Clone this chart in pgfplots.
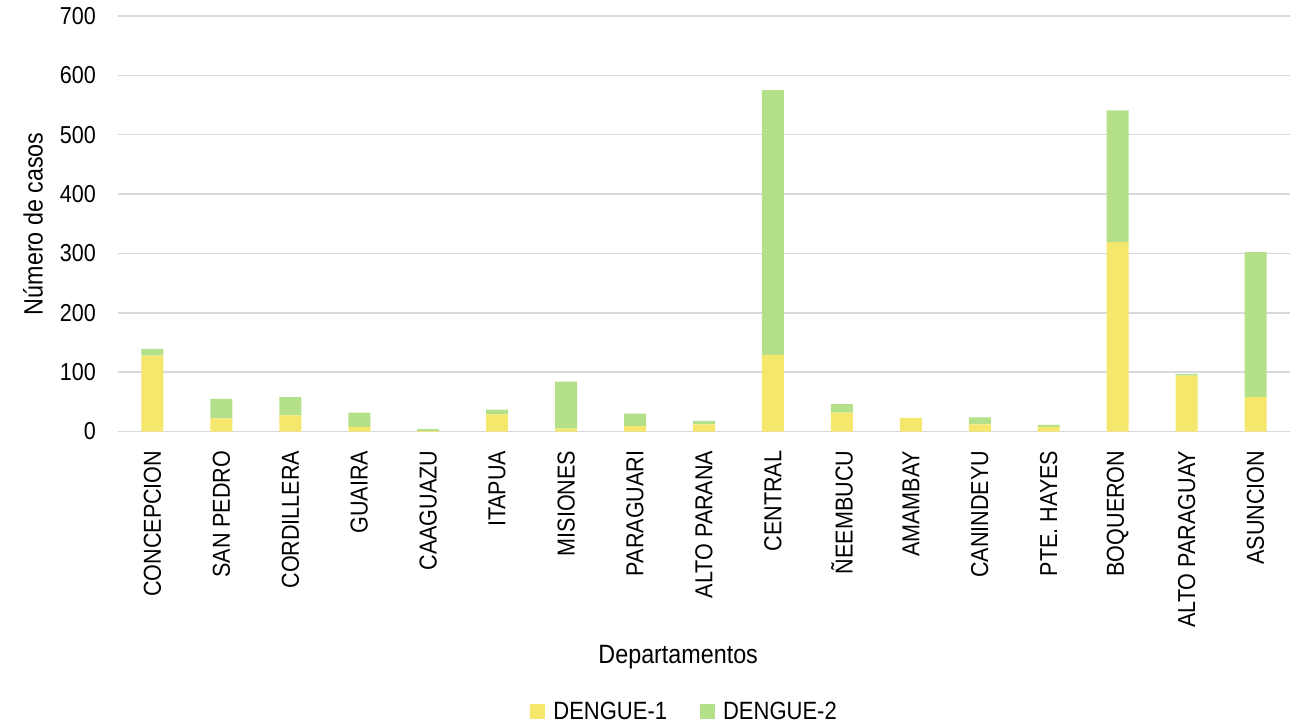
\documentclass[border=0pt]{standalone}
\usepackage{fontspec}
\setmainfont{Liberation Sans}[FakeStretch=0.88]
\usepackage{pgfplots}
\pgfplotsset{compat=1.18}
\usepackage{pgfplotstable}
\definecolor{dyellow}{RGB}{245,231,107}
\definecolor{dgreen}{RGB}{180,224,137}
\definecolor{gridgray}{RGB}{217,217,217}
\pgfplotstableread{
x d1 d2
0 128 11
1 22 33
2 27 31
3 8 24
4 1 3
5 29 8
6 5 79
7 9 21
8 12 6
9 129 446
10 32 14
11 23 0
12 12 12
13 8 3
14 319 222
15 94 3
16 58 244
}\datatable
\begin{document}
\begin{tikzpicture}
\path[use as bounding box] (-118pt,-294.5pt) rectangle (1194pt,431.5pt);
\begin{axis}[
  at={(0,0)}, anchor=south west,
  scale only axis,
  width=1172pt, height=415.5pt,
  ybar stacked,
  bar width=22pt,
  ymin=0, ymax=700,
  ytick distance=100,
  xmin=-0.5, xmax=16.5,
  xtick=data,
  xticklabels={CONCEPCION,SAN PEDRO,CORDILLERA,GUAIRA,CAAGUAZU,ITAPUA,MISIONES,PARAGUARI,ALTO PARANA,CENTRAL,ÑEEMBUCU,AMAMBAY,CANINDEYU,PTE. HAYES,BOQUERON,ALTO PARAGUAY,ASUNCION},
  axis line style={draw=none},
  major tick length=0pt,
  ymajorgrids,
  grid style={gridgray, line width=1.5pt},
  font=\fontsize{24}{28}\selectfont,
  tick label style={font=\fontsize{24.5}{28}\selectfont},
  /pgf/number format/assume math mode=true,
  xticklabel style={rotate=90, anchor=east, inner sep=0pt},
  xticklabel shift=19pt,
  yticklabel style={anchor=east, inner sep=0pt},
  yticklabel shift=22pt,
  xlabel={Departamentos},
  ylabel={Número de casos},
  xlabel style={at={(axis description cs:0.478,-0.543)}, anchor=center, font=\fontsize{26.5}{30}\selectfont},
  ylabel style={at={(axis description cs:-0.0725,0.5)}, anchor=center, rotate=0, font=\fontsize{26.5}{30}\selectfont},
  legend columns=2,
  legend style={at={(axis description cs:0.486,-0.675)}, anchor=center, draw=none, fill=none,
    font=\fontsize{25}{28}\selectfont, inner sep=0pt,
    /tikz/every even column/.append style={column sep=25pt},
    nodes={inner xsep=8pt}},
  legend image code/.code={\fill[#1] (0pt,-7.5pt) rectangle (15pt,7.5pt);},
]
\addplot[fill=dyellow, draw=none] table[x=x, y=d1] {\datatable};
\addplot[fill=dgreen, draw=none] table[x=x, y=d2] {\datatable};
\legend{DENGUE-1, DENGUE-2}
\end{axis}
\end{tikzpicture}
\end{document}
